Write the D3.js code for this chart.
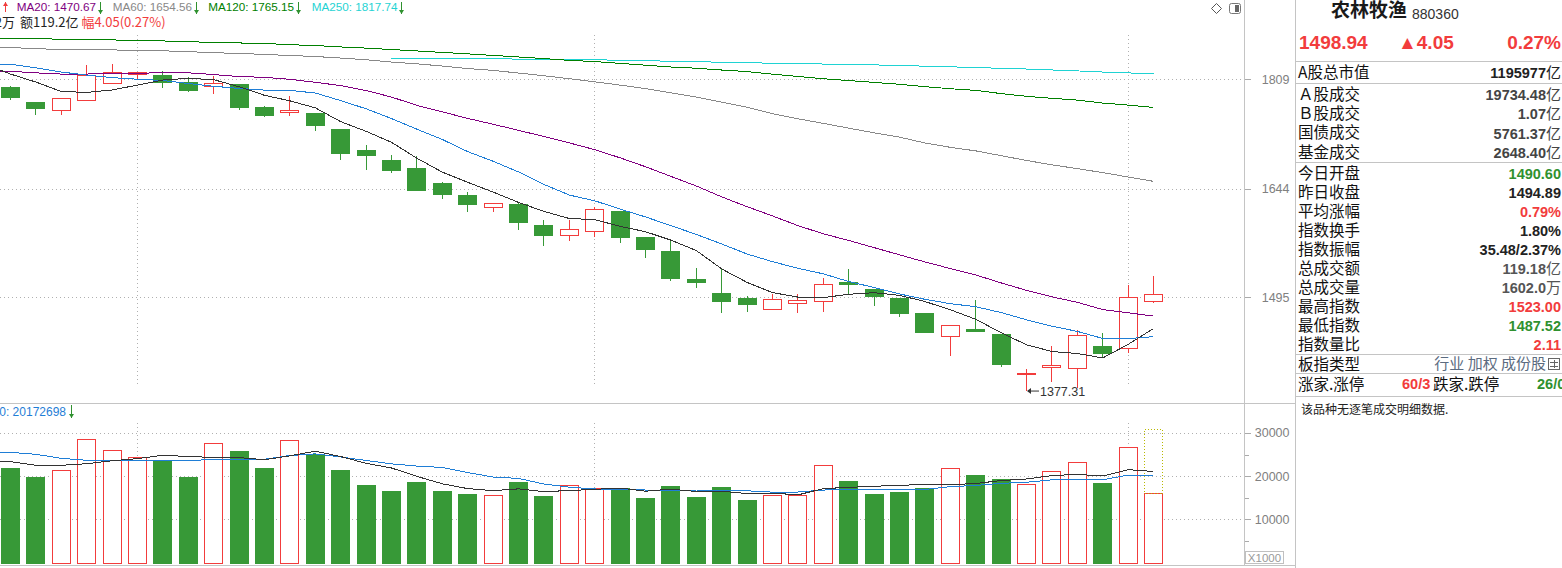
<!DOCTYPE html>
<html>
<head>
<meta charset="utf-8">
<script src="https://cdn.jsdelivr.net/npm/d3@7/dist/d3.min.js"></script>
<style>
  body { margin: 0; background: #fff; overflow: hidden; }
  svg { display: block; font-family: "Liberation Sans", Arial, sans-serif; }
</style>
</head>
<body>
<svg id="chart" width="1562" height="568"></svg>
<script>
// ---- values (index 880360, daily) ----
var openP  = [1796.9, 1773.4, 1760.6, 1776.1, 1802.7, 1817.0, 1815.8, 1804.7, 1798.0, 1801.6,
              1765.7, 1758.5, 1756.5, 1732.1, 1700.5, 1685.8, 1674.0, 1652.2, 1634.9, 1617.4,
              1622.1, 1592.6, 1578.3, 1583.8, 1612.2, 1575.5, 1556.8, 1519.1, 1500.6, 1494.1,
              1479.4, 1488.0, 1490.6, 1515.1, 1505.9, 1494.5, 1474.6, 1445.6, 1454.1, 1447.8,
              1398.9, 1406.2, 1405.0, 1432.7, 1429.8, 1490.60];
var highP  = [1798.4, 1773.4, 1779.2, 1831.8, 1833.4, 1821.0, 1822.2, 1812.6, 1814.2, 1801.6,
              1767.7, 1782.7, 1756.5, 1732.1, 1708.0, 1693.1, 1691.7, 1653.6, 1639.2, 1623.1,
              1624.9, 1599.6, 1600.0, 1617.4, 1612.2, 1575.5, 1570.9, 1533.8, 1533.4, 1496.7,
              1498.9, 1499.3, 1520.4, 1532.5, 1505.9, 1494.5, 1474.6, 1458.8, 1491.5, 1447.8,
              1404.1, 1432.7, 1452.9, 1448.7, 1511.2, 1523.00];
var lowP   = [1777.0, 1753.9, 1753.9, 1776.1, 1802.7, 1807.9, 1795.8, 1789.5, 1785.4, 1761.1,
              1750.8, 1752.3, 1729.5, 1686.2, 1671.1, 1667.1, 1641.1, 1629.2, 1610.8, 1610.8,
              1585.6, 1563.6, 1570.9, 1576.4, 1568.1, 1547.7, 1516.9, 1507.6, 1475.0, 1475.9,
              1479.4, 1474.6, 1476.3, 1499.3, 1484.1, 1469.8, 1450.7, 1420.6, 1451.6, 1407.0,
              1377.31, 1388.6, 1380.6, 1417.4, 1423.6, 1487.52];
var closeP = [1781.7, 1764.6, 1779.2, 1815.3, 1820.1, 1820.6, 1804.3, 1792.6, 1802.7, 1766.2,
              1753.9, 1761.1, 1738.6, 1696.5, 1693.1, 1671.1, 1642.5, 1636.8, 1622.5, 1623.1,
              1597.2, 1579.1, 1586.6, 1614.6, 1576.4, 1559.9, 1520.8, 1515.5, 1490.6, 1486.3,
              1492.8, 1491.1, 1512.1, 1512.5, 1497.1, 1475.0, 1450.7, 1458.8, 1451.6, 1410.7,
              1399.0, 1409.1, 1446.1, 1424.3, 1494.89, 1498.94];

// volume, x1000
var volume = [21944, 19861, 21343, 28588, 26042, 24421, 23727, 19861, 27593, 25810,
              21944, 28287, 25185, 21412, 17940, 16551, 18634, 16551, 15856, 15556,
              18634, 15394, 17870, 17176, 17176, 14931, 17708, 15162, 17477, 14468,
              15556, 15556, 22500, 18866, 15856, 16319, 17176, 21806, 20255, 19329,
              18102, 21111, 23194, 18403, 26667, 16019];
var volForecast = 30900;

var ma5   = [1817.4, 1804.7, 1789.8, 1788.5, 1792.2, 1800.0, 1807.9, 1810.6, 1808.5, 1797.3,
             1783.9, 1775.3, 1764.5, 1743.3, 1728.6, 1712.1, 1688.4, 1668.0, 1653.2, 1639.2,
             1624.4, 1611.7, 1601.7, 1600.1, 1590.8, 1583.3, 1571.7, 1557.4, 1532.6, 1514.6,
             1501.2, 1495.3, 1494.6, 1499.0, 1501.1, 1497.6, 1489.5, 1478.8, 1466.6, 1449.4,
             1434.2, 1425.8, 1423.3, 1417.8, 1434.7, 1454.7];
var ma10  = [1833.1, 1827.3, 1820.6, 1815.8, 1811.7, 1809.2, 1807.1, 1802.5, 1798.1, 1794.7,
             1792.0, 1791.6, 1787.5, 1775.7, 1763.0, 1748.0, 1731.8, 1716.3, 1698.2, 1683.9,
             1668.3, 1650.1, 1634.9, 1626.7, 1615.0, 1603.9, 1591.7, 1579.6, 1566.4, 1552.7,
             1542.3, 1533.5, 1526.0, 1515.8, 1507.9, 1499.4, 1492.4, 1486.7, 1482.8, 1475.2,
             1465.9, 1457.7, 1451.1, 1442.2, 1442.0, 1444.4];
var ma20  = [1821.7, 1819.3, 1817.4, 1817.4, 1818.5, 1818.7, 1819.5, 1819.3, 1816.6, 1813.4,
             1812.2, 1809.0, 1804.3, 1799.2, 1791.4, 1781.2, 1768.3, 1758.3, 1748.2, 1739.3,
             1730.1, 1720.8, 1711.2, 1701.1, 1689.0, 1675.9, 1661.8, 1647.9, 1632.3, 1618.3,
             1605.3, 1591.8, 1580.4, 1571.2, 1561.4, 1551.6, 1542.0, 1533.1, 1524.6, 1514.0,
             1504.1, 1495.6, 1488.5, 1479.0, 1474.9, 1470.7];
var ma60  = [1860.0, 1858.2, 1856.8, 1856.5, 1856.1, 1855.7, 1854.7, 1853.4, 1851.6, 1850.5,
             1848.9, 1847.1, 1845.5, 1843.0, 1840.2, 1836.6, 1833.7, 1830.2, 1826.2, 1823.2,
             1819.0, 1814.7, 1810.0, 1805.1, 1799.9, 1794.4, 1787.8, 1781.1, 1773.4, 1765.3,
             1755.5, 1747.7, 1740.7, 1733.4, 1726.3, 1719.8, 1711.1, 1704.6, 1699.3, 1692.2,
             1685.1, 1678.7, 1673.1, 1667.3, 1660.9, 1654.6];
var ma120 = [1874.9, 1874.4, 1873.7, 1872.9, 1872.4, 1871.9, 1870.8, 1869.6, 1868.3, 1867.5,
             1866.7, 1864.6, 1863.3, 1861.0, 1859.1, 1856.8, 1854.5, 1852.1, 1849.8, 1847.2,
             1844.8, 1842.1, 1839.3, 1837.4, 1834.4, 1831.5, 1828.6, 1826.7, 1823.8, 1821.3,
             1817.3, 1813.5, 1810.0, 1807.1, 1804.2, 1801.2, 1797.5, 1794.2, 1791.6, 1786.6,
             1782.4, 1779.2, 1776.5, 1771.9, 1768.7, 1765.2];
var ma250 = [null, null, null, null, null, null, null, null, null, null,
             null, null, null, null, null, 1843.0, 1842.7, 1842.4, 1842.1, 1841.7,
             1841.4, 1841.1, 1840.6, 1840.2, 1839.5, 1838.7, 1837.9, 1837.1, 1836.3, 1835.5,
             1834.7, 1834.0, 1833.4, 1832.8, 1832.0, 1831.0, 1830.0, 1828.9, 1827.8, 1826.5,
             1825.4, 1823.9, 1822.4, 1820.6, 1819.2, 1817.7];
// where each average line enters at the left edge of the plot
var maEdge = {ma5: 1823.8, ma10: 1833.4, ma20: 1821.7, ma60: 1860.8, ma120: 1875.0, ma250: null};

var volMa5  = [23333, 22500, 22500, 22870, 23556, 24051, 24824, 24528, 24329, 24282,
               23787, 24699, 25764, 24528, 22954, 21875, 19944, 18218, 17106, 16630,
               17046, 16398, 16662, 16926, 17250, 16509, 16972, 16431, 16491, 15949,
               16074, 15644, 17111, 17389, 17667, 17819, 18143, 18005, 18282, 18977,
               19334, 20121, 20398, 20028, 21495, 21079];
var volMa10 = [25509, 25046, 24120, 23657, 23495, 23657, 23657, 23657, 23796, 23919,
               23919, 24762, 25146, 24428, 23618, 22831, 22322, 21991, 20817, 19792,
               19461, 18171, 17440, 17016, 16940, 16778, 16685, 16546, 16708, 16600,
               16292, 16308, 16771, 16940, 16808, 16947, 16894, 17558, 17836, 18322,
               18577, 19132, 19201, 19155, 20236, 20206];
var volMaEdge = {ma5: 23495, ma10: 25509};

var priceTicks = [1495, 1644, 1809];
var volTicks = [10000, 20000, 30000];
var volMinorTicks = [5000, 15000, 25000];
var monthStarts = [5, 23, 44];
var lowIndex = 40;

var maNames  = ["MA20", "MA60", "MA120", "MA250"];
var maValues = ["1470.67", "1654.56", "1765.15", "1817.74"];
var volMa10Label = "MAVOL10: 20172698";

var section1Labels = ["Ａ股成交", "Ｂ股成交", "国债成交", "基金成交"];
var section1Values = ["19734.48", "1.07", "5761.37", "2648.40"];
var section2Labels = ["今日开盘", "昨日收盘", "平均涨幅", "指数换手", "指数振幅",
                      "总成交额", "总成交量", "最高指数", "最低指数", "指数量比"];
var section2Values = ["1490.60", "1494.89", "0.79%", "1.80%", "35.48/2.37%",
                      "119.18", "1602.0", "1523.00", "1487.52", "2.11"];
var section2Units  = ["", "", "", "", "", "亿", "万", "", "", ""];
var section2Kind   = ["down", "flat", "up", "flat", "flat", "grey", "grey", "up", "down", "up"];

// ---- colours ----
var upColor = "#f23c3c", downColor = "#379937";
var textColor = {up: "#f23c3c", down: "#2f912f", flat: "#222", grey: "#555"};
var lineGrey = "#c4c4c4", gridGrey = "#b0b0b0";
var cjk = "'Noto Sans CJK SC', sans-serif";

var svg = d3.select("#chart");
var plotRight = 1244.5, panelLeft = 1295.5;

svg.append("rect").attr("width", 1562).attr("height", 568).attr("fill", "#fff");

var n = closeP.length;
var x = d3.scaleBand().domain(d3.range(n)).range([-2.2, 1166.2])
    .paddingInner(0.25).paddingOuter(0.125);
var cx = function(i) { return x(i) + x.bandwidth() / 2; };
var y = d3.scaleLog().domain([1363, 1939]).range([403, 0]);
var yv = d3.scaleLinear().domain([0, 30000]).range([562.5, 432.9]);

// ---- grid ----
var grid = svg.append("g").attr("stroke", gridGrey).attr("stroke-dasharray", "1,3")
    .attr("shape-rendering", "crispEdges");
grid.selectAll(".hp").data(priceTicks).enter().append("line")
    .attr("x1", 0).attr("x2", plotRight)
    .attr("y1", d => Math.round(y(d)) + 0.5).attr("y2", d => Math.round(y(d)) + 0.5);
grid.selectAll(".hv").data(volTicks).enter().append("line")
    .attr("x1", 0).attr("x2", plotRight)
    .attr("y1", d => Math.round(yv(d)) + 0.5).attr("y2", d => Math.round(yv(d)) + 0.5);
grid.selectAll(".vm").data(monthStarts).enter().append("line")
    .attr("x1", d => Math.floor(cx(d)) + 0.5).attr("x2", d => Math.floor(cx(d)) + 0.5)
    .attr("y1", 35).attr("y2", 387);
grid.selectAll(".vv").data(monthStarts).enter().append("line")
    .attr("x1", d => Math.floor(cx(d)) + 0.5).attr("x2", d => Math.floor(cx(d)) + 0.5)
    .attr("y1", 423).attr("y2", 563);

// ---- candles ----
var kg = svg.append("g").attr("shape-rendering", "crispEdges");
d3.range(n).forEach(function(i) {
  var o = openP[i], c = closeP[i], up = c >= o;
  var col = up ? upColor : downColor;
  var wx = Math.floor(cx(i)) + 0.5;
  var top = Math.round(y(Math.max(o, c))), bot = Math.round(y(Math.min(o, c)));
  var yh = Math.round(y(highP[i])), yl = Math.round(y(lowP[i]));
  var bx = Math.round(x(i)) + 0.5, bw = Math.round(x.bandwidth()) - 1;
  if (up) {
    if (yh < top) kg.append("line").attr("x1", wx).attr("x2", wx).attr("y1", yh).attr("y2", top).attr("stroke", col);
    if (yl > bot) kg.append("line").attr("x1", wx).attr("x2", wx).attr("y1", bot).attr("y2", yl).attr("stroke", col);
  } else {
    kg.append("line").attr("x1", wx).attr("x2", wx).attr("y1", yh).attr("y2", yl).attr("stroke", col);
  }
  kg.append("rect")
    .attr("x", bx).attr("y", top + 0.5)
    .attr("width", bw).attr("height", Math.max(bot - top, 1))
    .attr("fill", up ? "#fff" : col).attr("stroke", col);
});

// ---- moving averages ----
function withEdge(values, edge) {
  var pts = values.map(function(v, i) { return {x: cx(i), v: v}; });
  if (edge != null) pts.unshift({x: 0, v: edge});
  return pts;
}
var maLine = d3.line().defined(d => d.v != null).x(d => d.x).y(d => y(d.v));
var maSeries = [[ma250, maEdge.ma250, "#1fd3d3"], [ma120, maEdge.ma120, "#008000"],
                [ma60, maEdge.ma60, "#888888"], [ma20, maEdge.ma20, "#800080"],
                [ma10, maEdge.ma10, "#1f7ed6"], [ma5, maEdge.ma5, "#333333"]];
var lg = svg.append("g").attr("fill", "none").attr("stroke-width", 1)
    .attr("shape-rendering", "crispEdges");
maSeries.forEach(function(s) {
  lg.append("path").attr("d", maLine(withEdge(s[0], s[1]))).attr("stroke", s[2]);
});

// lowest price marker
var lowY = y(lowP[lowIndex]);
var lx = Math.floor(cx(lowIndex)) + 1;
svg.append("line").attr("x1", lx + 1).attr("x2", lx + 12).attr("y1", lowY).attr("y2", lowY)
    .attr("stroke", "#333");
svg.append("path").attr("d", "M" + lx + "," + lowY + "l4,-3v6z").attr("fill", "#333");
svg.append("text").attr("x", lx + 13).attr("y", lowY).attr("dy", "0.36em")
    .attr("font-size", 12.5).attr("fill", "#333").text(lowP[lowIndex].toFixed(2));

// ---- volume ----
var vg = svg.append("g").attr("shape-rendering", "crispEdges");
d3.range(n).forEach(function(i) {
  var up = closeP[i] >= openP[i], col = up ? upColor : downColor;
  var top = Math.round(yv(volume[i]));
  vg.append("rect")
    .attr("x", Math.round(x(i)) + 0.5).attr("y", top + 0.5)
    .attr("width", Math.round(x.bandwidth()) - 1).attr("height", Math.round(yv(0)) - top)
    .attr("fill", up ? "#fff" : col).attr("stroke", col);
});
var lastTop = Math.round(yv(volume[n - 1])), fcTop = Math.round(yv(volForecast));
vg.append("rect")
  .attr("x", Math.round(x(n - 1)) + 0.5).attr("y", fcTop + 0.5)
  .attr("width", Math.round(x.bandwidth()) - 1).attr("height", lastTop - fcTop)
  .attr("fill", "none").attr("stroke", "#b8b800").attr("stroke-dasharray", "1,2");

var vLine = d3.line().x(d => d.x).y(d => yv(d.v));
lg = svg.append("g").attr("fill", "none").attr("shape-rendering", "crispEdges");
lg.append("path").attr("d", vLine(withEdge(volMa10, volMaEdge.ma10))).attr("stroke", "#1f7ed6");
lg.append("path").attr("d", vLine(withEdge(volMa5, volMaEdge.ma5))).attr("stroke", "#333333");

// ---- frame ----
var frame = svg.append("g").attr("stroke", lineGrey).attr("shape-rendering", "crispEdges");
frame.append("line").attr("x1", plotRight).attr("x2", plotRight).attr("y1", 0).attr("y2", 566);
frame.append("line").attr("x1", panelLeft).attr("x2", panelLeft).attr("y1", 0).attr("y2", 568);
frame.append("line").attr("x1", 0).attr("x2", panelLeft).attr("y1", 403.5).attr("y2", 403.5);
frame.append("line").attr("x1", 0).attr("x2", panelLeft).attr("y1", 565.5).attr("y2", 565.5);

// ---- axes ----
var priceAxis = svg.append("g").attr("transform", "translate(" + plotRight + ",0)")
    .call(d3.axisRight(y).tickValues(priceTicks).tickFormat(d3.format("d")).tickSize(6));
var volAxis = svg.append("g").attr("transform", "translate(" + plotRight + ",0)")
    .call(d3.axisRight(yv).tickValues(volTicks).tickFormat(d3.format("d")).tickSize(6));
svg.append("g").attr("transform", "translate(" + plotRight + ",0)")
    .call(d3.axisRight(yv).tickValues(volMinorTicks).tickFormat("").tickSize(4))
    .select(".domain").remove();
[priceAxis, volAxis].forEach(function(a) {
  a.select(".domain").remove();
  a.selectAll("text").attr("x", 45).attr("text-anchor", "end")
    .attr("font-size", 12.5).attr("font-family", "'Liberation Sans', Arial, sans-serif")
    .attr("fill", "#808080");
});
svg.selectAll(".tick line").attr("stroke", "#aaa").attr("shape-rendering", "crispEdges");

svg.append("rect").attr("x", 1245.5).attr("y", 551.5).attr("width", 38).attr("height", 12)
    .attr("fill", "#fff").attr("stroke", "#c0c0c0");
svg.append("text").attr("x", 1264.5).attr("y", 557.5).attr("dy", "0.36em")
    .attr("text-anchor", "middle").attr("font-size", 11.5).attr("fill", "#999").text("X1000");

// small icons top right of the plot
svg.append("path").attr("d", "M1216.5,3.5 l5,5 l-5,5 l-5,-5z")
    .attr("fill", "none").attr("stroke", "#555");
svg.append("rect").attr("x", 1229.5).attr("y", 3.5).attr("width", 11).attr("height", 10)
    .attr("rx", 2).attr("fill", "none").attr("stroke", "#777");
svg.append("rect").attr("x", 1235).attr("y", 5).attr("width", 4).attr("height", 7).attr("fill", "#666");

// ---- headers ----
function arrow(ax, y1, y2, up, col) {
  var tip = up ? y1 : y2, s = up ? 1 : -1;
  svg.append("line").attr("x1", ax).attr("x2", ax).attr("y1", y1).attr("y2", y2)
      .attr("stroke", col).attr("shape-rendering", "crispEdges");
  svg.append("path").attr("d", "M" + ax + "," + tip + "l2.5," + (4 * s) + "h-5z").attr("fill", col);
}
var maColors = ["#800080", "#888888", "#008000", "#1fd3d3"];
var maStart  = [16.7, 112.7, 208.3, 311.7];
arrow(5.5, 2, 12, true, upColor);
maNames.forEach(function(name, k) {
  var t = svg.append("text").attr("x", maStart[k]).attr("y", 7).attr("dy", "0.36em")
      .attr("font-size", 11.7).attr("fill", maColors[k]).text(name + ": " + maValues[k]);
  var w = t.node().getComputedTextLength();
  arrow(Math.round(maStart[k] + w + 4) + 0.5, 2, 14, false, textColor.down);
});
// second header row starts left of the plot edge, so its first word is cut like in the terminal
svg.append("text").attr("x", 15).attr("y", 22).attr("dy", "0.36em").attr("text-anchor", "end")
    .attr("font-size", 13).attr("font-family", cjk).attr("fill", "#222").text("量1602万");
var h2 = svg.append("text").attr("x", 20).attr("y", 22).attr("dy", "0.36em")
    .attr("font-size", 13).attr("font-family", cjk);
h2.append("tspan").attr("fill", "#222").text("额119.2亿 ");
h2.append("tspan").attr("fill", textColor.up).text("幅4.05(0.27%)");

svg.append("text").attr("x", 66).attr("y", 411.5).attr("dy", "0.36em")
    .attr("text-anchor", "end").attr("font-size", 12).attr("fill", "#1f7ed6")
    .text(volMa10Label);
arrow(71.5, 405, 418, false, textColor.down);

// ---- right info panel ----
var rp = svg.append("g").attr("font-family", cjk);
rp.append("text").attr("x", 1331).attr("y", 10).attr("dy", "0.36em")
    .attr("font-size", 19).attr("font-weight", "bold").attr("fill", "#1a1a1a").text("农林牧渔");
rp.append("text").attr("x", 1412).attr("y", 13.5).attr("dy", "0.36em")
    .attr("font-size", 14).attr("font-family", "'Liberation Sans', Arial").attr("fill", "#333").text("880360");

function big(xp, txt, anchor) {
  rp.append("text").attr("x", xp).attr("y", 42).attr("dy", "0.36em").attr("text-anchor", anchor)
    .attr("font-size", 19).attr("font-weight", "bold").attr("font-family", "'Liberation Sans', Arial")
    .attr("fill", textColor.up).text(txt);
}
big(1299, "1498.94", "start");
big(1398, "▲4.05", "start");
big(1561, "0.27%", "end");

[61, 83, 162, 354, 373, 396].forEach(function(yy) {
  rp.append("line").attr("x1", panelLeft).attr("x2", 1562).attr("y1", yy + 0.5).attr("y2", yy + 0.5)
    .attr("stroke", lineGrey).attr("shape-rendering", "crispEdges");
});

function infoRow(yy, label, value, unit, color) {
  rp.append("text").attr("x", 1298).attr("y", yy).attr("dy", "0.36em")
    .attr("font-size", 15.5).attr("fill", "#111").text(label);
  var t = rp.append("text").attr("x", 1561).attr("y", yy).attr("dy", "0.36em")
    .attr("text-anchor", "end").attr("fill", color);
  t.append("tspan").attr("font-family", "'Liberation Sans', Arial").attr("font-weight", "bold")
    .attr("font-size", 14.5).text(value);
  if (unit) t.append("tspan").attr("font-size", 15).text(unit);
}
infoRow(72.7, "A股总市值", "1195977", "亿", "#222");
section1Labels.forEach(function(l, k) {
  infoRow(94.3 + 19.3 * k, l, section1Values[k], "亿", "#444");
});
section2Labels.forEach(function(l, k) {
  infoRow(173.5 + 19 * k, l, section2Values[k], section2Units[k], textColor[section2Kind[k]]);
});

rp.append("text").attr("x", 1298).attr("y", 364).attr("dy", "0.36em")
    .attr("font-size", 15.5).attr("fill", "#111").text("板指类型");
rp.append("text").attr("x", 1546).attr("y", 364).attr("dy", "0.36em").attr("text-anchor", "end")
    .attr("font-size", 15).attr("fill", "#5b6b80").text("行业 加权 成份股");
rp.append("rect").attr("x", 1548.5).attr("y", 358.5).attr("width", 11).attr("height", 11)
    .attr("fill", "none").attr("stroke", "#666").attr("shape-rendering", "crispEdges");
[362, 366].forEach(function(yy) {
  rp.append("line").attr("x1", 1550).attr("x2", 1558).attr("y1", yy + 0.5).attr("y2", yy + 0.5)
    .attr("stroke", "#666").attr("shape-rendering", "crispEdges");
});
rp.append("line").attr("x1", 1554.5).attr("x2", 1554.5).attr("y1", 360).attr("y2", 368)
    .attr("stroke", "#666").attr("shape-rendering", "crispEdges");

rp.append("text").attr("x", 1298).attr("y", 384).attr("dy", "0.36em")
    .attr("font-size", 15.5).attr("fill", "#111").text("涨家.涨停");
rp.append("text").attr("x", 1402).attr("y", 384).attr("dy", "0.36em")
    .attr("font-size", 14.5).attr("font-weight", "bold").attr("font-family", "'Liberation Sans', Arial")
    .attr("fill", textColor.up).text("60/3");
rp.append("text").attr("x", 1433).attr("y", 384).attr("dy", "0.36em")
    .attr("font-size", 15.5).attr("fill", "#111").text("跌家.跌停");
rp.append("text").attr("x", 1537).attr("y", 384).attr("dy", "0.36em")
    .attr("font-size", 14.5).attr("font-weight", "bold").attr("font-family", "'Liberation Sans', Arial")
    .attr("fill", textColor.down).text("26/0");

rp.append("text").attr("x", 1301).attr("y", 410).attr("dy", "0.36em")
    .attr("font-size", 12).attr("fill", "#222").text("该品种无逐笔成交明细数据.");
</script>
</body>
</html>
